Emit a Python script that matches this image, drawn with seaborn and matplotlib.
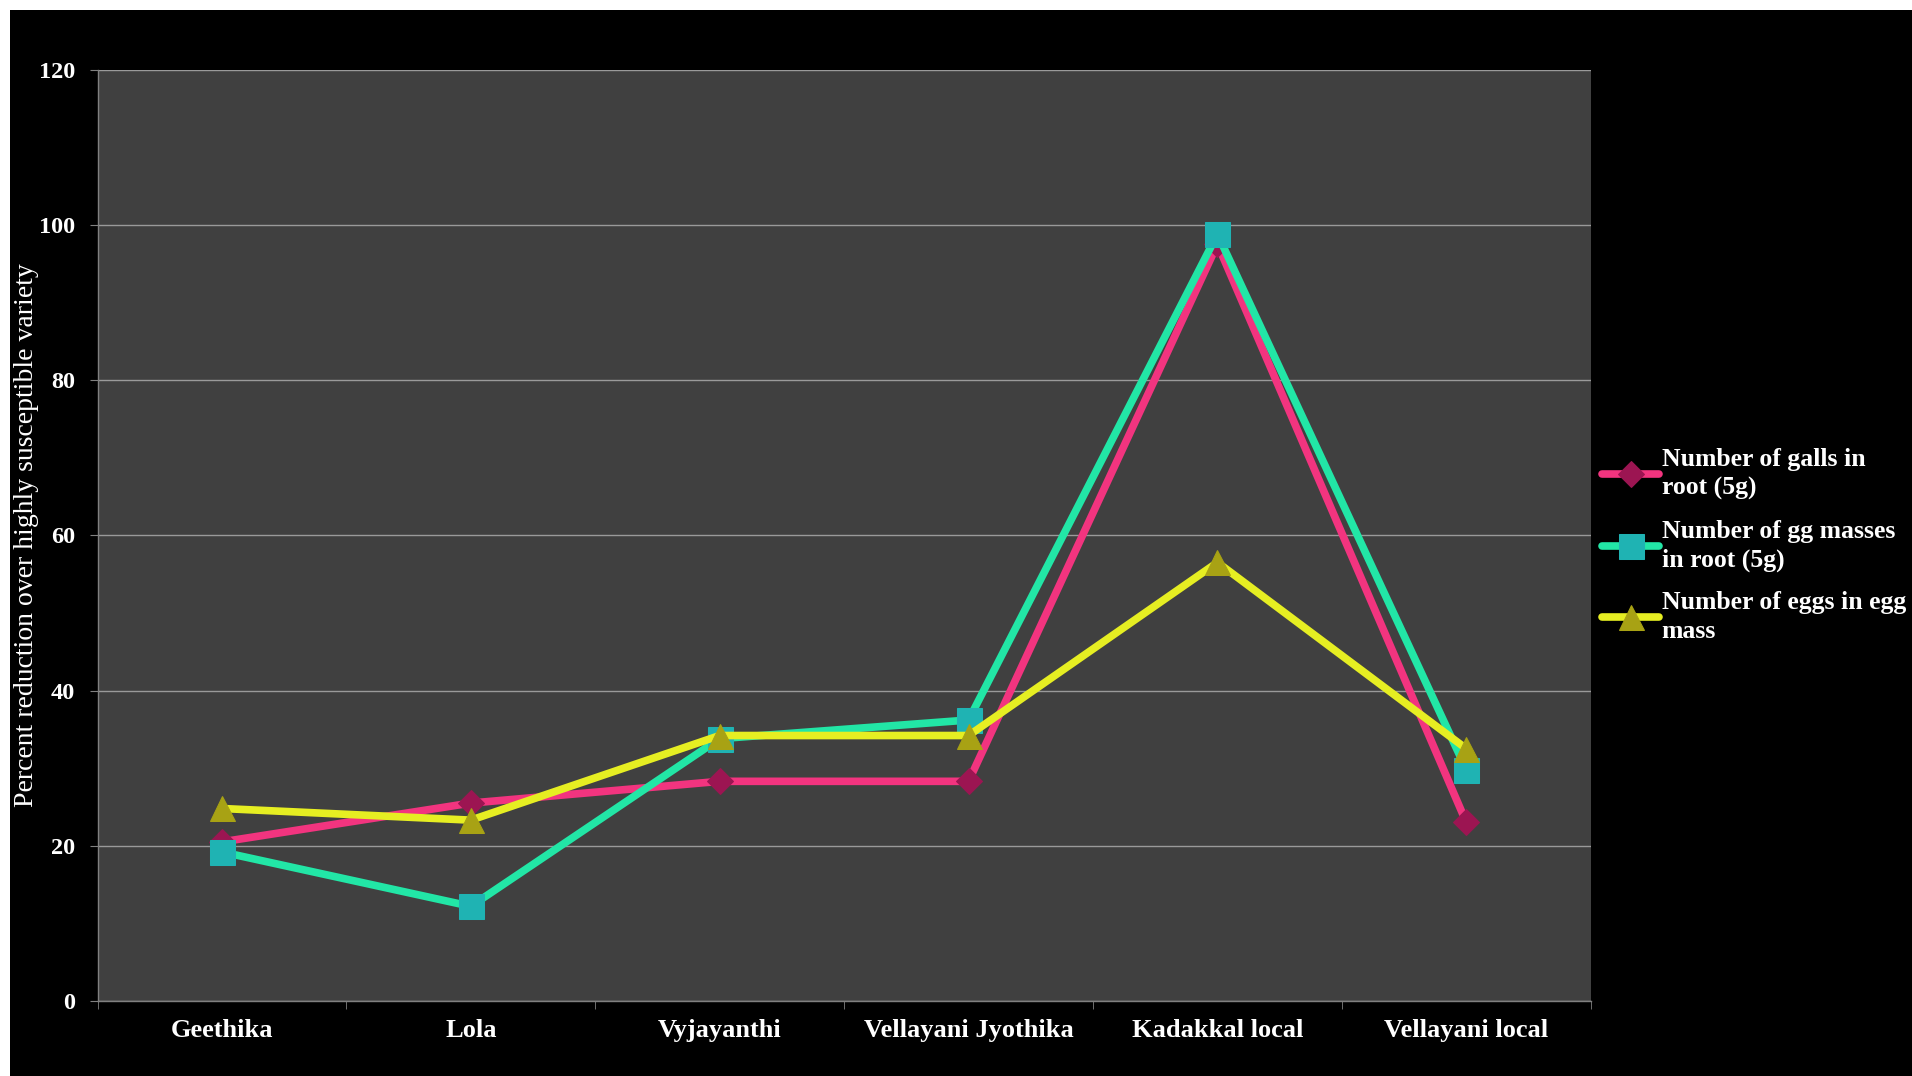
import matplotlib
matplotlib.use("Agg")
import matplotlib.pyplot as plt
from matplotlib.patches import Rectangle
import seaborn as sns

varieties = ['Geethika', 'Lola', 'Vyjayanthi', 'Vellayani Jyothika', 'Kadakkal local', 'Vellayani local']
galls = [20.5, 25.5, 28.3, 28.3, 97.5, 23.0]
egg_masses = [19.2, 12.2, 33.8, 36.2, 98.8, 29.8]
eggs = [24.8, 23.3, 34.2, 34.2, 56.5, 32.5]
series_names = ['Number of galls in\nroot (5g)', 'Number of gg masses\nin root (5g)', 'Number of eggs in egg\nmass']
yticks = [0, 20, 40, 60, 80, 100, 120]

sns.set_style('dark')
plt.rcParams['font.family'] = ['Liberation Serif', 'DejaVu Serif']

fig = plt.figure(figsize=(19.12, 10.76), dpi=100, facecolor='white')
# black slide background with thin white margin top/left
fig.patches.append(Rectangle((10 / 1912, 0), 1, 1 - 10 / 1076, transform=fig.transFigure,
                             facecolor='black', edgecolor='none', zorder=-10))
ax = fig.add_axes([0.051, 0.0697, 0.781, 0.8657])
ax.set_facecolor('#404040')

styles = [
    (galls, '#F2347F', 'D', 13, '#9C1552'),
    (egg_masses, '#22E6A6', 's', 18, '#1FB3B3'),
    (eggs, '#E6EE22', '^', 18, '#A8A214'),
]
for (vals, lc, mk, ms, mc), name in zip(styles, series_names):
    sns.lineplot(x=varieties, y=vals, ax=ax, color=lc, lw=5.5, marker=mk, markersize=ms,
                 markerfacecolor=mc, markeredgecolor=mc, label=name, sort=False)

ax.set_xlim(-0.5, len(varieties) - 0.5)
ax.set_ylim(0, 120)
ax.set_yticks(yticks)
ax.set_yticklabels([str(v) for v in yticks], color='white', fontsize=17.5, fontweight='bold')
ax.set_xticks(range(len(varieties)))
ax.set_xticklabels(varieties, color='white', fontsize=19, fontweight='bold')
ax.set_xticks([i - 0.5 for i in range(len(varieties) + 1)], minor=True)
ax.tick_params(axis='x', which='major', length=0, pad=13)
ax.tick_params(axis='x', which='minor', length=6, color='#808080', direction='out', bottom=True)
ax.tick_params(axis='y', length=6, color='#808080', direction='out', left=True, pad=10)
ax.yaxis.grid(True, color='#9a9a9a', lw=1)
ax.xaxis.grid(False)
for s in ['top', 'right']:
    ax.spines[s].set_visible(False)
for s in ['left', 'bottom']:
    ax.spines[s].set_visible(True)
    ax.spines[s].set_color('#808080')
    ax.spines[s].set_linewidth(1)

ax.set_xlabel('')
ax.set_ylabel('Percent reduction over highly susceptible variety', color='white', fontsize=20)
ax.yaxis.set_label_coords(-0.039, 0.5)

handles, labels = ax.get_legend_handles_labels()
ax.legend_.remove()
leg = fig.legend(handles, labels, loc='upper left', bbox_to_anchor=(0.826, 0.605),
                 frameon=False, handlelength=2.2, handletextpad=0.1,
                 labelspacing=0.77, prop={'weight': 'bold', 'size': 18.5})
for t in leg.get_texts():
    t.set_color('white')
    t.set_linespacing(1.3)

fig.savefig('out.png', dpi=100, facecolor=fig.get_facecolor())
